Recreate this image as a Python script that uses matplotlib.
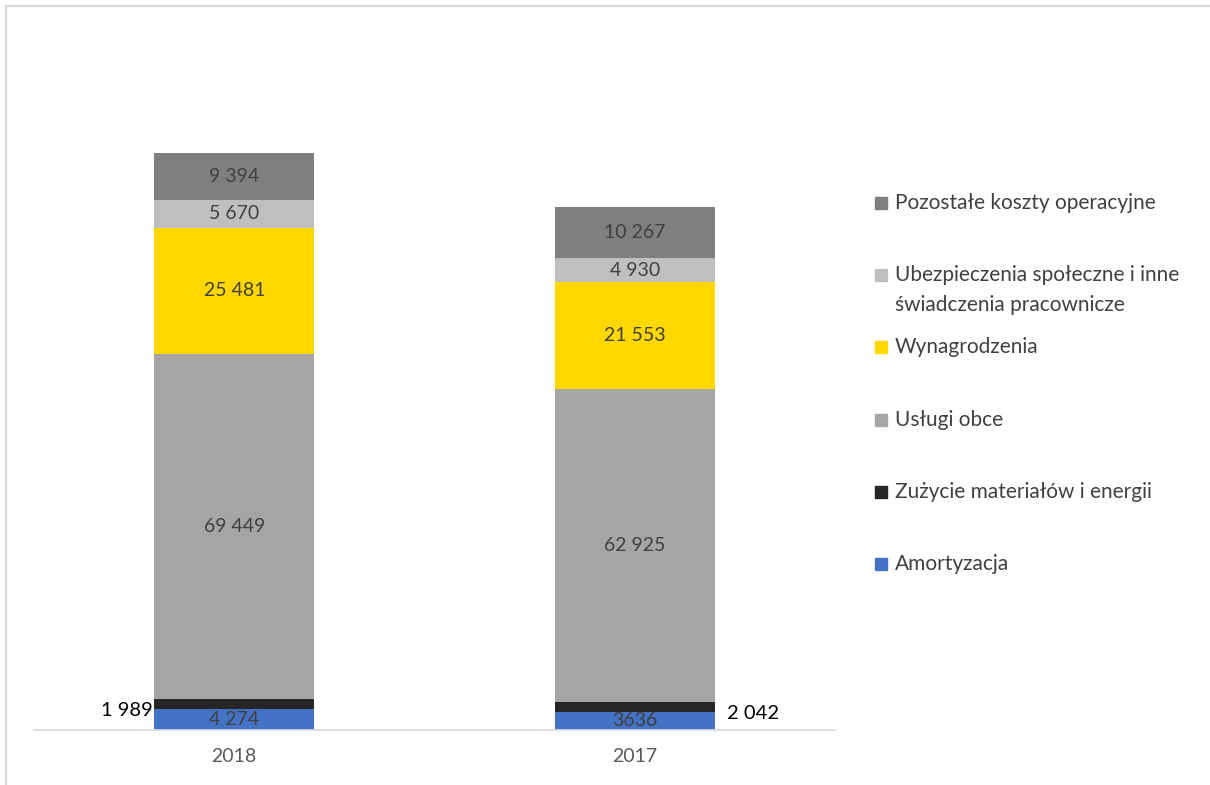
import matplotlib.pyplot as plt
from matplotlib.patches import Rectangle
from matplotlib.lines import Line2D

plt.rcParams['font.family'] = ['Lato', 'DejaVu Sans']

years = ["2018", "2017"]
categories = ["Amortyzacja", "Zużycie materiałów i energii", "Usługi obce",
              "Wynagrodzenia", "Ubezpieczenia społeczne i inne\nświadczenia pracownicze",
              "Pozostałe koszty operacyjne"]
amortyzacja = [4274, 3636]
zuzycie = [1989, 2042]
uslugi = [69449, 62925]
wynagrodzenia = [25481, 21553]
ubezpieczenia = [5670, 4930]
pozostale = [9394, 10267]
labels_amort = ["4 274", "3636"]

series = [amortyzacja, zuzycie, uslugi, wynagrodzenia, ubezpieczenia, pozostale]
colors = ["#4472c4", "#262626", "#a5a5a5", "#ffd800", "#bfbfbf", "#7f7f7f"]

def fmt(v):
    return "{:,}".format(v).replace(",", " ")

fig = plt.figure(figsize=(12.1, 7.85), dpi=100)
ax = fig.add_axes([34/1210, 55/785, 801/1210, 695/785])

x = list(range(len(years)))
bottom = [0, 0]
for i, (vals, col) in enumerate(zip(series, colors)):
    bars = ax.bar(x, vals, 0.4, bottom=bottom, color=col, linewidth=0)
    for j, b in enumerate(bars):
        cx = b.get_x() + b.get_width() / 2
        cy = bottom[j] + vals[j] / 2
        if i == 0:
            ax.text(cx, cy, labels_amort[j], ha="center", va="center", fontsize=14, color="#404040")
        elif i == 1:
            # outside labels sit a little below the thin segment
            if j == 0:
                ax.text(b.get_x() - 0.003, cy - 1400, fmt(vals[j]), ha="right", va="center", fontsize=14.5, color="black")
            else:
                ax.text(b.get_x() + b.get_width() + 0.03, cy - 1400, fmt(vals[j]), ha="left", va="center", fontsize=14.5, color="black")
        else:
            ax.text(cx, cy, fmt(vals[j]), ha="center", va="center", fontsize=14, color="#404040")
    bottom = [bottom[k] + vals[k] for k in range(len(vals))]

ax.set_xlim(-0.5, 1.5)
ax.set_ylim(0, 140000)
ax.set_xticks(x)
ax.set_xticklabels(years, fontsize=14, color="#595959")
ax.tick_params(axis="x", length=0, pad=13)
ax.set_yticks([])
for s in ["top", "right", "left"]:
    ax.spines[s].set_visible(False)
ax.spines["bottom"].set_color("#d9d9d9")
ax.spines["bottom"].set_linewidth(1.2)

# legend drawn by hand (top entry first)
order = list(range(len(categories)))[::-1]
for k, idx in enumerate(order):
    y = 203 + k * 72.2
    fig.patches.append(Rectangle((875/1210, 1 - (y + 6)/785), 12/1210, 12/785,
                                 transform=fig.transFigure, color=colors[idx]))
    two = "\n" in categories[idx]
    fig.text(895/1210, 1 - (y - 10)/785 if two else 1 - y/785, categories[idx],
             fontsize=15, color="#404040", va="top" if two else "center",
             linespacing=1.6)

# outer border (top and left)
fig.lines.append(Line2D([5.5/1210, 1], [1 - 5.5/785, 1 - 5.5/785], transform=fig.transFigure, color="#d9d9d9", lw=1.5))
fig.lines.append(Line2D([5.5/1210, 5.5/1210], [0, 1 - 5.5/785], transform=fig.transFigure, color="#d9d9d9", lw=1.5))

fig.savefig("out.png", dpi=100)
